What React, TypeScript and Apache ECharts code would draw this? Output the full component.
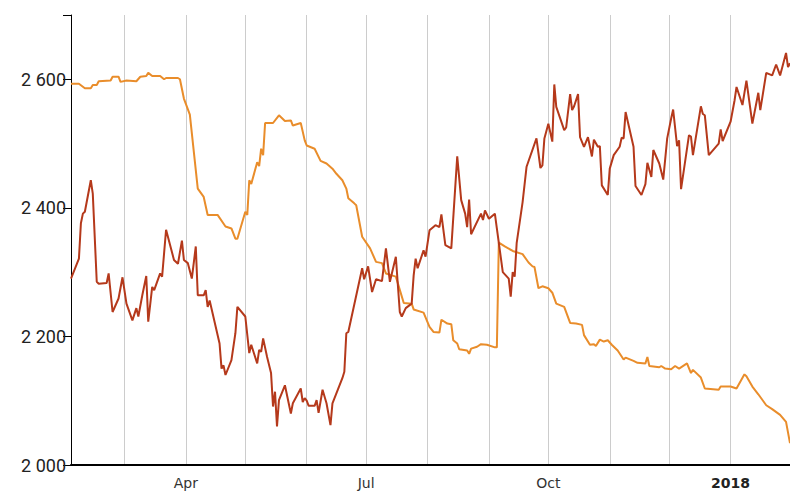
import React, { useEffect, useRef } from "react";
import * as echarts from "echarts";

const redDates = [
  "2017-02-02","2017-02-06","2017-02-07","2017-02-08","2017-02-09","2017-02-12","2017-02-13","2017-02-15","2017-02-16","2017-02-20",
  "2017-02-21","2017-02-23","2017-02-26","2017-02-28","2017-03-02","2017-03-05","2017-03-07","2017-03-08","2017-03-10","2017-03-12",
  "2017-03-13","2017-03-15","2017-03-16","2017-03-19","2017-03-20","2017-03-22","2017-03-26","2017-03-28","2017-03-30","2017-03-31",
  "2017-04-02","2017-04-04","2017-04-06","2017-04-07","2017-04-10","2017-04-11","2017-04-12","2017-04-13","2017-04-18","2017-04-19",
  "2017-04-20","2017-04-21","2017-04-24","2017-04-26","2017-04-27","2017-05-01","2017-05-03","2017-05-04","2017-05-07","2017-05-08",
  "2017-05-09","2017-05-10","2017-05-12","2017-05-14","2017-05-15","2017-05-16","2017-05-17","2017-05-18","2017-05-21","2017-05-24",
  "2017-05-25","2017-05-29","2017-05-30","2017-05-31","2017-06-01","2017-06-02","2017-06-05","2017-06-06","2017-06-07","2017-06-09",
  "2017-06-11","2017-06-13","2017-06-14","2017-06-19","2017-06-20","2017-06-21","2017-06-22","2017-06-29","2017-06-30","2017-07-02",
  "2017-07-04","2017-07-06","2017-07-09","2017-07-11","2017-07-13","2017-07-16","2017-07-18","2017-07-19","2017-07-21","2017-07-24",
  "2017-07-25","2017-07-26","2017-07-27","2017-07-30","2017-07-31","2017-08-02","2017-08-05","2017-08-07","2017-08-08","2017-08-10",
  "2017-08-13","2017-08-16","2017-08-18","2017-08-20","2017-08-21","2017-08-22","2017-08-23","2017-08-28","2017-08-29","2017-08-30",
  "2017-09-01","2017-09-04","2017-09-05","2017-09-08","2017-09-11","2017-09-12","2017-09-13","2017-09-14","2017-09-15","2017-09-18",
  "2017-09-20","2017-09-25","2017-09-27","2017-09-28","2017-09-29","2017-10-01","2017-10-03","2017-10-04","2017-10-05","2017-10-09",
  "2017-10-10","2017-10-12","2017-10-13","2017-10-14","2017-10-16","2017-10-17","2017-10-19","2017-10-21","2017-10-23","2017-10-24",
  "2017-10-26","2017-10-27","2017-10-28","2017-10-31","2017-11-01","2017-11-03","2017-11-06","2017-11-07","2017-11-08","2017-11-09",
  "2017-11-13","2017-11-14","2017-11-17","2017-11-19","2017-11-20","2017-11-22","2017-11-23","2017-11-26","2017-11-28","2017-11-30",
  "2017-12-02","2017-12-03","2017-12-05","2017-12-06","2017-12-07","2017-12-11","2017-12-12","2017-12-13","2017-12-17","2017-12-18",
  "2017-12-19","2017-12-21","2017-12-26","2017-12-27","2017-12-28","2018-01-01","2018-01-03","2018-01-04","2018-01-07","2018-01-09",
  "2018-01-12","2018-01-15","2018-01-16","2018-01-19","2018-01-22","2018-01-24","2018-01-26","2018-01-29","2018-01-30","2018-01-31"
];
const redValues = [
  2290,2321,2376,2391,2394,2443,2422,2285,2282,2283,
  2298,2238,2259,2292,2251,2225,2244,2231,2264,2294,
  2223,2277,2272,2298,2293,2366,2319,2313,2349,2319,
  2314,2290,2340,2264,2264,2272,2246,2256,2189,2150,
  2155,2140,2163,2205,2246,2231,2174,2187,2158,2179,
  2176,2197,2168,2143,2091,2114,2060,2101,2124,2080,
  2096,2119,2098,2104,2100,2092,2092,2101,2081,2117,
  2096,2062,2096,2135,2145,2205,2207,2306,2289,2309,
  2269,2289,2286,2337,2285,2324,2238,2231,2244,2251,
  2295,2321,2306,2334,2324,2365,2373,2370,2390,2342,
  2337,2480,2412,2391,2370,2413,2359,2391,2381,2396,
  2383,2391,2368,2300,2290,2262,2300,2293,2345,2409,
  2464,2508,2462,2466,2508,2531,2503,2592,2557,2521,
  2525,2577,2552,2558,2577,2510,2495,2510,2480,2506,
  2495,2496,2435,2420,2461,2482,2495,2509,2508,2549,
  2495,2434,2420,2437,2470,2448,2490,2469,2444,2508,
  2539,2553,2496,2505,2429,2513,2511,2482,2558,2546,
  2544,2482,2500,2522,2504,2534,2567,2588,2560,2598,
  2531,2579,2552,2610,2606,2623,2606,2641,2619,2625
];

const orangeDates = [
  "2017-02-02","2017-02-06","2017-02-09","2017-02-12","2017-02-13","2017-02-15","2017-02-16","2017-02-22","2017-02-23","2017-02-26",
  "2017-02-27","2017-03-02","2017-03-07","2017-03-09","2017-03-12","2017-03-13","2017-03-15","2017-03-19","2017-03-21","2017-03-22",
  "2017-03-28","2017-03-29","2017-03-31","2017-04-03","2017-04-07","2017-04-10","2017-04-12","2017-04-17","2017-04-21","2017-04-24",
  "2017-04-26","2017-04-27","2017-05-01","2017-05-02","2017-05-03","2017-05-04","2017-05-07","2017-05-08","2017-05-09","2017-05-10",
  "2017-05-11","2017-05-15","2017-05-18","2017-05-21","2017-05-24","2017-05-25","2017-05-29","2017-05-31","2017-06-01","2017-06-05",
  "2017-06-08","2017-06-11","2017-06-14","2017-06-16","2017-06-19","2017-06-21","2017-06-22","2017-06-25","2017-06-26","2017-06-29",
  "2017-07-03","2017-07-06","2017-07-09","2017-07-11","2017-07-14","2017-07-16","2017-07-20","2017-07-24","2017-07-25","2017-07-30",
  "2017-08-02","2017-08-04","2017-08-07","2017-08-08","2017-08-11","2017-08-13","2017-08-14","2017-08-16","2017-08-17","2017-08-21",
  "2017-08-22","2017-08-23","2017-08-26","2017-08-28","2017-08-31","2017-09-04","2017-09-05","2017-09-06","2017-09-09","2017-09-13",
  "2017-09-18","2017-09-21","2017-09-23","2017-09-24","2017-09-26","2017-09-28","2017-10-01","2017-10-03","2017-10-05","2017-10-09",
  "2017-10-12","2017-10-15","2017-10-18","2017-10-19","2017-10-22","2017-10-24","2017-10-25","2017-10-27","2017-10-29","2017-10-31",
  "2017-11-02","2017-11-05","2017-11-08","2017-11-09","2017-11-13","2017-11-15","2017-11-19","2017-11-20","2017-11-21","2017-11-26",
  "2017-11-27","2017-11-29","2017-12-02","2017-12-04","2017-12-06","2017-12-10","2017-12-12","2017-12-13","2017-12-17","2017-12-19",
  "2017-12-26","2017-12-27","2018-01-01","2018-01-04","2018-01-08","2018-01-09","2018-01-12","2018-01-15","2018-01-19","2018-01-22",
  "2018-01-26","2018-01-29","2018-01-31"
];
const orangeValues = [
  2593,2593,2586,2586,2591,2591,2597,2598,2604,2604,
  2596,2598,2597,2604,2605,2610,2605,2605,2600,2602,
  2602,2600,2570,2545,2430,2417,2389,2389,2371,2368,
  2352,2352,2394,2389,2443,2437,2471,2465,2492,2482,
  2532,2532,2544,2535,2536,2528,2532,2505,2497,2492,
  2473,2469,2461,2453,2443,2430,2415,2407,2404,2355,
  2337,2316,2314,2298,2295,2293,2252,2251,2242,2237,
  2215,2207,2206,2226,2220,2219,2194,2189,2180,2178,
  2173,2181,2184,2188,2187,2183,2183,2346,2340,2333,
  2328,2315,2309,2308,2275,2278,2275,2268,2251,2246,
  2221,2220,2218,2202,2187,2188,2185,2195,2192,2194,
  2187,2178,2164,2167,2162,2159,2158,2168,2154,2152,
  2154,2150,2149,2154,2150,2158,2143,2148,2136,2119,
  2117,2122,2122,2119,2141,2138,2122,2110,2093,2087,
  2078,2067,2034
];

const yTicks = [2000, 2200, 2400, 2600];
const quarterLabels: Record<number, string> = { 3: "Apr", 6: "Jul", 9: "Oct" };

const RED = "#b5391b";
const ORANGE = "#e98d2b";

function fmtThousands(v: number): string {
  return String(v).replace(/\B(?=(\d{3})+(?!\d))/g, " ");
}

export default function App() {
  const ref = useRef<HTMLDivElement>(null);
  useEffect(() => {
    if (!ref.current) return;
    const chart = echarts.init(ref.current, undefined, { renderer: "svg" });
    const red = redDates.map((d, i) => [d, redValues[i]]);
    const orange = orangeDates.map((d, i) => [d, orangeValues[i]]);
    chart.setOption({
      animation: false,
      backgroundColor: "#ffffff",
      grid: { left: 71, right: 0, top: 15, bottom: 28, containLabel: false },
      xAxis: {
        type: "time",
        min: "2017-02-02",
        max: "2018-01-31",
        splitNumber: 12,
        minInterval: 28 * 86400000,
        maxInterval: 31 * 86400000,
        axisLine: { show: true, lineStyle: { color: "#000", width: 2 } },
        axisTick: { show: false },
        splitLine: { show: true, lineStyle: { color: "#cccccc", width: 1 } },
        axisLabel: {
          show: true,
          hideOverlap: false,
          showMinLabel: false,
          showMaxLabel: false,
          margin: 11,
          color: "#333",
          fontSize: 14,
          fontFamily: "DejaVu Sans",
          formatter: (value: number) => {
            const d = new Date(value);
            if (d.getDate() !== 1) return "";
            const m = d.getMonth();
            if (m === 0) return "{b|" + d.getFullYear() + "}";
            return quarterLabels[m] || "";
          },
          rich: {
            b: { fontWeight: "bold", fontSize: 14, color: "#222", fontFamily: "DejaVu Sans" },
          },
        },
      },
      yAxis: {
        type: "value",
        min: 2000,
        max: 2700,
        interval: 200,
        axisLine: { show: true, lineStyle: { color: "#000", width: 1 } },
        axisTick: { show: true, length: 8, lineStyle: { color: "#000", width: 1 } },
        splitLine: { show: false },
        axisLabel: {
          margin: 5,
          color: "#222",
          fontSize: 18,
          fontFamily: "Roboto",
          formatter: (v: number) => (yTicks.indexOf(v) >= 0 ? fmtThousands(v) : ""),
        },
      },
      series: [
        {
          name: "orange",
          type: "line",
          data: orange,
          showSymbol: false,
          symbol: "none",
          lineStyle: { color: ORANGE, width: 2 },
          itemStyle: { color: ORANGE },
        },
        {
          name: "red",
          type: "line",
          data: red,
          showSymbol: false,
          symbol: "none",
          lineStyle: { color: RED, width: 2 },
          itemStyle: { color: RED },
        },
      ],
    });
    return () => chart.dispose();
  }, []);
  return (
    <div
      ref={ref}
      style={{ position: "absolute", left: 0, top: 0, width: 790, height: 493 }}
    />
  );
}
